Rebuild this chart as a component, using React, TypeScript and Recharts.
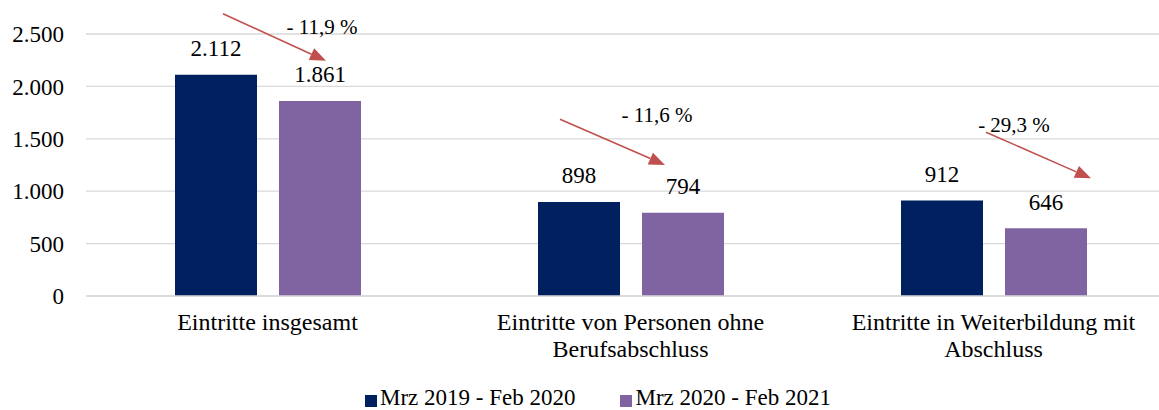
import { BarChart, Bar, XAxis, YAxis, CartesianGrid, LabelList, Legend } from 'recharts'

const CATEGORIES = [
  'Eintritte insgesamt',
  'Eintritte von Personen ohne\nBerufsabschluss',
  'Eintritte in Weiterbildung mit\nAbschluss',
]
const PERIOD_A = [2112, 898, 912]
const PERIOD_B = [1861, 794, 646]
const SERIES_NAMES = ['Mrz 2019 - Feb 2020', 'Mrz 2020 - Feb 2021']
const Y_TICKS = [0, 500, 1000, 1500, 2000, 2500]
const CHANGE_LABELS = ['- 11,9 %', '- 11,6 %', '- 29,3 %']

// hand placed annotations: heights in value units, x offsets (px) from the left edge of the 2nd bar
const ARROW_FROM = [2694, 1687, 1563]
const ARROW_TO = [2244, 1250, 1123]
const ARROW_DX: [number, number][] = [[-56, 47], [-82, 23], [-19, 86]]
const CHANGE_AT = [2570, 1729, 1633]
const CHANGE_DX = [43, 15, 9]

const NAVY = '#002060'
const PURPLE = '#8064A2'
const RED = '#C0504D'
const GRID = '#d9d9d9'
const FONT = '"Liberation Serif", "Times New Roman", serif'

const data = CATEGORIES.map((name, i) => ({ name, a: PERIOD_A[i], b: PERIOD_B[i] }))

const fmt = (v: number) => String(v).replace(/\B(?=(\d{3})+(?!\d))/g, '.')

function ValueLabel(props: any) {
  const { x, y, width, value } = props
  return (
    <text x={x + width / 2} y={y - 26} textAnchor="middle" dominantBaseline="central"
      fontSize={23} fontFamily={FONT} fill="#000">
      {fmt(value)}
    </text>
  )
}

function ChangeArrow(props: any) {
  const { x, y, width, height, value, index } = props
  if (!width) return null
  const k = height / value
  const base = y + height
  const toY = (v: number) => base - v * k
  const x1 = x + ARROW_DX[index][0]
  const y1 = toY(ARROW_FROM[index])
  const x2 = x + ARROW_DX[index][1]
  const y2 = toY(ARROW_TO[index])
  const len = Math.hypot(x2 - x1, y2 - y1)
  const ux = (x2 - x1) / len
  const uy = (y2 - y1) / len
  const hl = 16
  const hw = 6.5
  const bx = x2 - ux * hl
  const by = y2 - uy * hl
  const pts = `${x2},${y2} ${bx - uy * hw},${by + ux * hw} ${bx + uy * hw},${by - ux * hw}`
  return (
    <g>
      <text x={x + CHANGE_DX[index]} y={toY(CHANGE_AT[index])} textAnchor="middle" dominantBaseline="central"
        fontSize={21} fontFamily={FONT} fill="#000">
        {CHANGE_LABELS[index]}
      </text>
      <line x1={x1} y1={y1} x2={bx} y2={by} stroke={RED} strokeWidth={1.6} />
      <polygon points={pts} fill={RED} />
    </g>
  )
}

function CategoryTick(props: any) {
  const { x, y, payload } = props
  const lines = String(payload.value).split('\n')
  return (
    <g>
      {lines.map((l, i) => (
        <text key={i} x={x} y={y + 26 + i * 27} textAnchor="middle" dominantBaseline="central"
          fontSize={24} fontFamily={FONT} fill="#000">
          {l}
        </text>
      ))}
    </g>
  )
}

function LegendBox() {
  const colors = [NAVY, PURPLE]
  return (
    <div style={{ display: 'flex', alignItems: 'center', paddingLeft: 365, paddingTop: 10, fontFamily: FONT, fontSize: 23, color: '#000', lineHeight: '24px' }}>
      {SERIES_NAMES.map((n, i) => (
        <div key={n} style={{ display: 'flex', alignItems: 'center', marginRight: 45 }}>
          <span style={{ width: 12, height: 12, background: colors[i], display: 'inline-block', marginRight: 3, marginTop: 6 }} />
          <span>{n}</span>
        </div>
      ))}
    </div>
  )
}

export default function App() {
  return (
    <div style={{ position: 'fixed', left: 0, top: 0, width: 1159, height: 410, overflow: 'hidden', background: '#fff' }}>
      <BarChart width={1175} height={410} data={data} margin={{ top: 34, right: 0, left: 0, bottom: 0 }}
        barCategoryGap={89} barGap={22}>
        <CartesianGrid vertical={false} stroke={GRID} strokeWidth={1.3} />
        <XAxis dataKey="name" interval={0} height={80} tickLine={false} axisLine={{ stroke: GRID, strokeWidth: 1.3 }}
          tickSize={0} tickMargin={0} tick={<CategoryTick />} />
        <YAxis width={86} domain={[0, 2500]} ticks={Y_TICKS} tickFormatter={fmt} axisLine={false} tickLine={false}
          tickSize={0} tickMargin={22} tick={{ fontSize: 23, fontFamily: FONT, fill: '#000' }} />
        <Legend verticalAlign="bottom" height={34} content={() => <LegendBox />} />
        <Bar dataKey="a" name={SERIES_NAMES[0]} fill={NAVY} isAnimationActive={false}>
          <LabelList dataKey="a" content={<ValueLabel />} />
        </Bar>
        <Bar dataKey="b" name={SERIES_NAMES[1]} fill={PURPLE} isAnimationActive={false}>
          <LabelList dataKey="b" content={<ValueLabel />} />
          <LabelList dataKey="b" content={<ChangeArrow />} />
        </Bar>
      </BarChart>
    </div>
  )
}
